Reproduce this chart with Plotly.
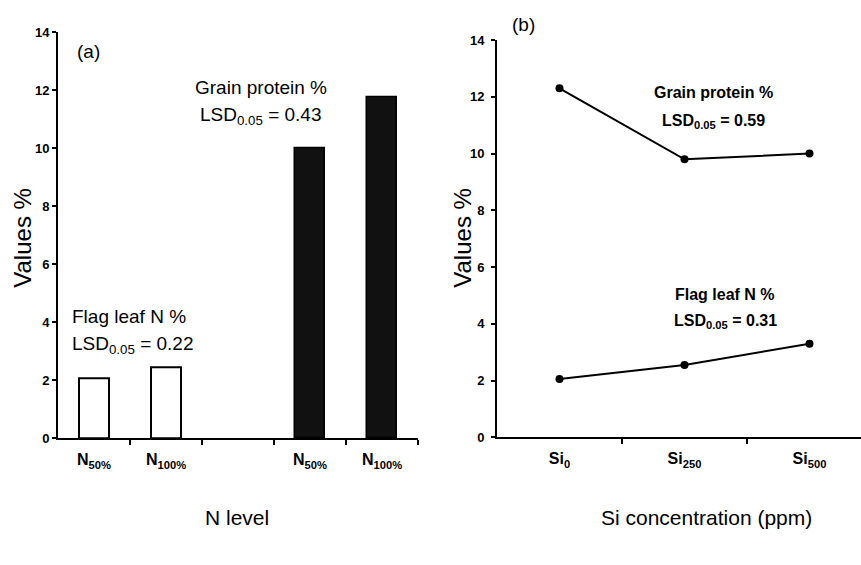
import plotly.graph_objects as go

# ---- data ----
n_positions = [0, 1, 3, 4]
n_labels = ["N<sub>50%</sub>", "N<sub>100%</sub>", "N<sub>50%</sub>", "N<sub>100%</sub>"]
flag_leaf_n = [2.05, 2.45]
grain_protein_n = [10.0, 11.75]

si_positions = [0, 1, 2]
si_labels = ["Si<sub>0</sub>", "Si<sub>250</sub>", "Si<sub>500</sub>"]
grain_protein_si = [12.3, 9.8, 10.0]
flag_leaf_si = [2.05, 2.55, 3.3]

y_ticks = [0, 2, 4, 6, 8, 10, 12, 14]

W, H = 861, 565
FONT = "Liberation Sans, Arial, sans-serif"


def px_x(p):
    return p / W


def px_y(p):
    return (H - p) / H


fig = go.Figure()

# Left panel bars
fig.add_trace(go.Bar(x=n_positions[:2], y=flag_leaf_n, width=0.42,
                     marker=dict(color="white", line=dict(color="black", width=2)),
                     xaxis="x", yaxis="y", showlegend=False))
fig.add_trace(go.Bar(x=n_positions[2:], y=grain_protein_n, width=0.42,
                     marker=dict(color="#111111", line=dict(color="black", width=1.5)),
                     xaxis="x", yaxis="y", showlegend=False))

# Right panel lines
fig.add_trace(go.Scatter(x=si_positions, y=grain_protein_si, mode="lines+markers",
                         line=dict(color="black", width=2),
                         marker=dict(color="black", size=8),
                         xaxis="x2", yaxis="y2", showlegend=False))
fig.add_trace(go.Scatter(x=si_positions, y=flag_leaf_si, mode="lines+markers",
                         line=dict(color="black", width=2),
                         marker=dict(color="black", size=8),
                         xaxis="x2", yaxis="y2", showlegend=False))

common_y = dict(range=[0, 14], tickvals=y_ticks, ticks="outside", ticklen=4, tickwidth=1.5,
                tickcolor="black", showline=True, linecolor="black", linewidth=2,
                showgrid=False, zeroline=False,
                tickfont=dict(family=FONT, size=13, color="black", weight="bold"))

xtickfont = dict(family=FONT, size=16, color="black", weight="bold")

fig.update_layout(
    width=W, height=H,
    margin=dict(l=0, r=0, t=0, b=0),
    paper_bgcolor="white", plot_bgcolor="white",
    font=dict(family=FONT, color="black"),
    bargap=0,
    xaxis=dict(domain=[px_x(58), px_x(418)], range=[-0.5, 4.5], anchor="y",
               tickvals=n_positions, ticktext=n_labels, ticks="", showline=True,
               linecolor="black", linewidth=2, showgrid=False, zeroline=False,
               tickfont=xtickfont, ticklabelstandoff=6,
               minor=dict(tickvals=[0.5, 1.5, 2.5, 3.5, 4.5], ticks="outside", ticklen=5,
                          tickwidth=1.5, tickcolor="black", showgrid=False)),
    yaxis=dict(domain=[px_y(443), px_y(26)], anchor="x", **common_y),
    xaxis2=dict(domain=[px_x(497), 1.0], range=[-0.5, 2.412], anchor="y2",
                tickvals=si_positions, ticktext=si_labels, ticks="", showline=True,
                linecolor="black", linewidth=2, showgrid=False, zeroline=False,
                tickfont=xtickfont, ticklabelstandoff=6,
                minor=dict(tickvals=[0.5, 1.5], ticks="outside", ticklen=5,
                           tickwidth=1.5, tickcolor="black", showgrid=False)),
    yaxis2=dict(domain=[px_y(442), px_y(34)], anchor="x2",
                ticklabelstandoff=4, **common_y),
)

ann_font = dict(family=FONT, size=19, color="black")
ann_font_b = dict(family=FONT, size=16, color="black", weight="bold")

annotations = [
    dict(text="(a)", x=px_x(88), y=px_y(46), font=dict(family=FONT, size=19, color="black")),
    dict(text="Grain protein %", x=px_x(261), y=px_y(83), font=ann_font),
    dict(text="LSD<sub>0.05</sub> = 0.43", x=px_x(261), y=px_y(112), font=ann_font),
    dict(text="Flag leaf N %", x=px_x(129), y=px_y(318), font=ann_font),
    dict(text="LSD<sub>0.05</sub> = 0.22", x=px_x(133), y=px_y(347), font=ann_font),
    dict(text="(b)", x=px_x(523), y=px_y(18), font=dict(family=FONT, size=19, color="black")),
    dict(text="Grain protein %", x=px_x(713), y=px_y(88), font=ann_font_b),
    dict(text="LSD<sub>0.05</sub> = 0.59", x=px_x(713), y=px_y(118), font=ann_font_b),
    dict(text="Flag leaf N %", x=px_x(725), y=px_y(295), font=ann_font_b),
    dict(text="LSD<sub>0.05</sub> = 0.31", x=px_x(725), y=px_y(323), font=ann_font_b),
    dict(text="Values %", x=px_x(23), y=px_y(237), textangle=-90,
         font=dict(family=FONT, size=24, color="black")),
    dict(text="Values %", x=px_x(463), y=px_y(237), textangle=-90,
         font=dict(family=FONT, size=24, color="black")),
    dict(text="N level", x=px_x(237), y=px_y(524), font=dict(family=FONT, size=21, color="black")),
    dict(text="Si concentration (ppm)", x=px_x(706), y=px_y(524),
         font=dict(family=FONT, size=21, color="black")),
]
for a in annotations:
    a.update(xref="paper", yref="paper", showarrow=False, xanchor="center", yanchor="middle")
fig.update_layout(annotations=annotations)

fig.write_html("out.html")
